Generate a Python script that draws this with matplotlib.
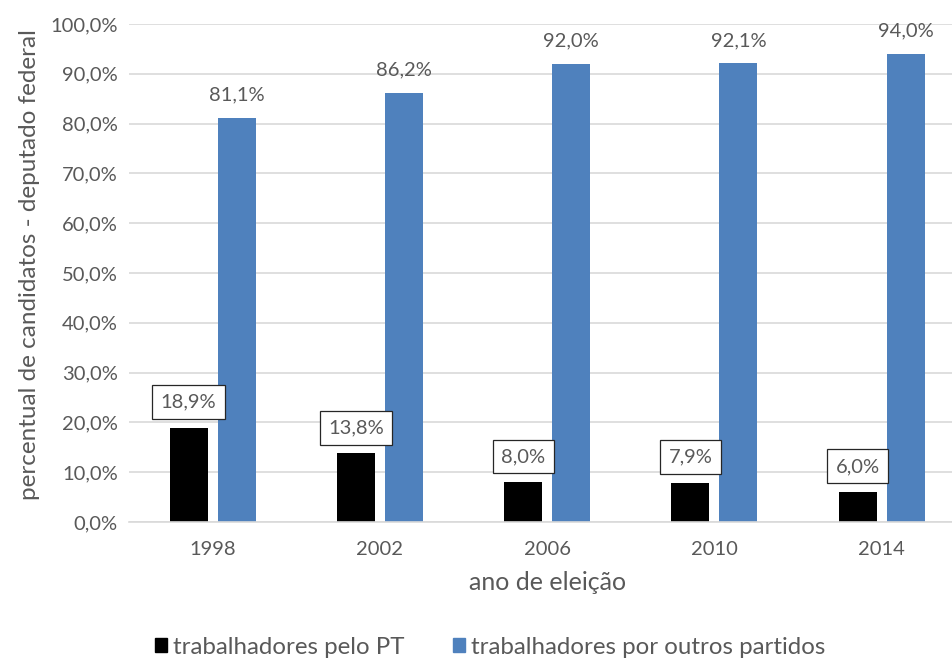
import matplotlib.pyplot as plt
from matplotlib.patches import Patch
import numpy as np

plt.rcParams['font.family'] = ['Lato', 'DejaVu Sans']

anos = ["1998", "2002", "2006", "2010", "2014"]
pelo_pt = [18.9, 13.8, 8.0, 7.9, 6.0]
outros_partidos = [81.1, 86.2, 92.0, 92.1, 94.0]

cinza = "#595959"
azul = "#4F81BD"

def pct(v):
    return f"{v:.1f}%".replace(".", ",")

fig = plt.figure(figsize=(9.53, 6.59), dpi=100)
ax = fig.add_axes([129 / 953, 137 / 659, 824 / 953, 498 / 659])

x = np.arange(len(anos))
largura = 0.227
desloc = 0.1435
b1 = ax.bar(x - desloc, pelo_pt, largura, color="black", zorder=3)
b2 = ax.bar(x + desloc, outros_partidos, largura, color=azul, zorder=3)

for rect, v in zip(b1, pelo_pt):
    ax.annotate(pct(v), (rect.get_x() + rect.get_width() / 2, v),
                xytext=(0, 18.5), textcoords="offset points",
                ha="center", va="center", fontsize=14.5, color=cinza,
                bbox=dict(boxstyle="square,pad=0.42", fc="white",
                          ec="#262626", lw=0.9), zorder=5)

for rect, v in zip(b2, outros_partidos):
    ax.annotate(pct(v), (rect.get_x() + rect.get_width() / 2, v),
                xytext=(0, 16.5), textcoords="offset points",
                ha="center", va="center", fontsize=14.5, color=cinza)

ax.set_ylim(0, 100)
ax.set_xlim(-0.5, -0.5 + 824 / 167.25)
ax.set_yticks(np.arange(0, 101, 10))
ax.set_yticklabels([pct(t) for t in np.arange(0, 101, 10)])
ax.set_xticks(x)
ax.set_xticklabels(anos)
ax.tick_params(length=0, labelsize=14.5, colors=cinza, pad=8)
ax.tick_params(axis="x", pad=14)

ax.grid(axis="y", color="#D9D9D9", lw=1.2, zorder=0)
for s in ["top", "right", "left"]:
    ax.spines[s].set_visible(False)
ax.spines["bottom"].set_color("#D9D9D9")
ax.spines["bottom"].set_linewidth(1.2)
ax.spines["bottom"].set_zorder(4)

fig.text(548 / 953, 1 - 583 / 659, "ano de eleição", ha="center", va="center",
         fontsize=18, color=cinza)
fig.text(30 / 953, 1 - 265 / 659, "percentual de candidatos - deputado federal",
         ha="center", va="center", rotation=90, fontsize=17.5, color=cinza)

handles = [Patch(color="black"), Patch(color=azul)]
fig.legend(handles, ["trabalhadores pelo PT", "trabalhadores por outros partidos"],
           loc="center", bbox_to_anchor=(490 / 953, 1 - 647 / 659), ncol=2,
           frameon=False, fontsize=17.3, labelcolor=cinza, handlelength=0.5,
           handleheight=0.5, handletextpad=0.25, columnspacing=2.0,
           borderpad=0, borderaxespad=0)

fig.savefig("out.png", dpi=100)
